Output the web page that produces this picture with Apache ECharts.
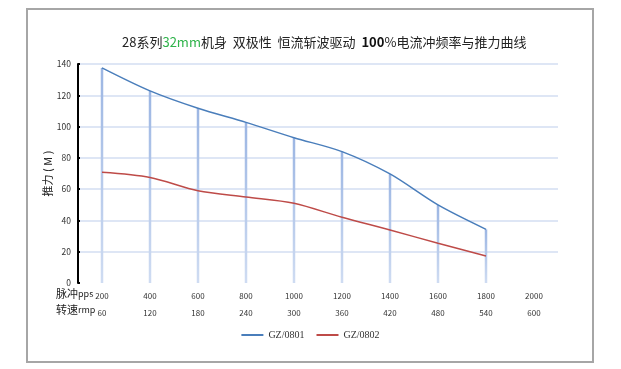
<!DOCTYPE html>
<html><head><meta charset="utf-8">
<script src="https://cdn.jsdelivr.net/npm/echarts@6/dist/echarts.min.js"></script>
<style>html,body{margin:0;padding:0;background:#fff}#c{width:621px;height:369px}</style>
</head><body><div id="c"></div>
<script>
const ppsLabels = ['200','400','600','800','1000','1200','1400','1600','1800','2000'];
const rpmLabels = ['60','120','180','240','300','360','420','480','540','600'];
const gz0801 = [137.5, 122.8, 111.7, 102.7, 92.9, 84, 69.7, 49.9, 34.3, null];
const gz0802 = [70.8, 67.5, 59, 55, 51, 42, 33.9, 25.4, 17.3, null];
const yTicks = {min: 0, max: 140, interval: 20};

const chart = echarts.init(document.getElementById('c'));
const font = '"Noto Sans CJK SC", "Noto Sans", sans-serif';
chart.setOption({
  animation: false,
  title: {
    text: '{n|28}{t|系列}{g|32mm}{t|机身  双极性  恒流斩波驱动  }{b|100}{t|%电流冲频率与推力曲线}',
    left: 117, top: 31,
    textStyle: {
      fontWeight: 'normal',
      rich: {
        n: {fontSize: 13, color: '#222', fontWeight: 'normal', fontFamily: font},
        t: {fontSize: 13, color: '#222', fontWeight: 'normal', fontFamily: font},
        g: {fontSize: 13, color: '#2eb34a', fontWeight: 'normal', fontFamily: font},
        b: {fontSize: 13, color: '#111', fontWeight: 'bold', fontFamily: font}
      }
    }
  },
  graphic: [
    {type: 'rect', shape: {x: 27, y: 9, width: 566, height: 353}, style: {fill: 'none', stroke: '#a6a6a6', lineWidth: 2}, z: 0},
    {type: 'text', left: 56, top: 288, style: {text: '{c|脉冲}{l|pps}', rich: {c: {fontSize: 11, fontFamily: font, fill: '#222'}, l: {fontSize: 9, fontFamily: font, fill: '#222'}}}},
    {type: 'text', left: 56, top: 304, style: {text: '{c|转速}{l|rmp}', rich: {c: {fontSize: 11, fontFamily: font, fill: '#222'}, l: {fontSize: 9, fontFamily: font, fill: '#222'}}}}
  ],
  legend: {
    bottom: 24, left: 'center',
    itemWidth: 22, itemHeight: 2, itemGap: 12,
    icon: 'rect',
    data: ['GZ/0801', 'GZ/0802'],
    textStyle: {fontSize: 10, color: '#333', fontFamily: '"Liberation Serif", serif'}
  },
  grid: {left: 78, right: 63, top: 64, bottom: 86},
  xAxis: {
    type: 'category',
    data: ppsLabels,
    boundaryGap: true,
    axisLine: {show: false},
    axisTick: {show: false},
    axisLabel: {
      interval: 0,
      margin: 4,
      formatter: (v, i) => '{a|' + v + '}\n{b|' + rpmLabels[i] + '}',
      rich: {
        a: {fontSize: 8, color: '#333', lineHeight: 17, fontFamily: font},
        b: {fontSize: 8, color: '#333', lineHeight: 17, fontFamily: font}
      }
    }
  },
  yAxis: {
    type: 'value',
    min: yTicks.min, max: yTicks.max, interval: yTicks.interval,
    name: '推力 ( M )',
    nameLocation: 'middle', nameGap: 25, nameRotate: 90, nameMoveOverlap: false,
    nameTextStyle: {fontSize: 11, color: '#222', fontFamily: font},
    axisLine: {show: true, lineStyle: {color: '#000', width: 2}},
    axisTick: {show: true, inside: true, length: 2, lineStyle: {color: '#000', width: 2}},
    axisLabel: {fontSize: 8.5, color: '#333', margin: 7, fontFamily: font},
    splitLine: {show: true, showMinLine: false, lineStyle: {color: '#d3def2', width: 1.5}}
  },
  series: [
    {
      name: 'drop', type: 'bar', data: gz0801, barWidth: 2.5, silent: true,
      itemStyle: {color: new echarts.graphic.LinearGradient(0, 0, 0, 1, [
        {offset: 0, color: '#9cb6e3'}, {offset: 1, color: '#cfdcf2'}])},
      z: 1
    },
    {
      name: 'GZ/0801', type: 'line', data: gz0801, smooth: 0.3, showSymbol: false,
      lineStyle: {color: '#4a7ebb', width: 1.5}, itemStyle: {color: '#4a7ebb'}, z: 3
    },
    {
      name: 'GZ/0802', type: 'line', data: gz0802, smooth: 0.3, showSymbol: false,
      lineStyle: {color: '#be4b48', width: 1.5}, itemStyle: {color: '#be4b48'}, z: 3
    }
  ]
});
</script></body></html>
